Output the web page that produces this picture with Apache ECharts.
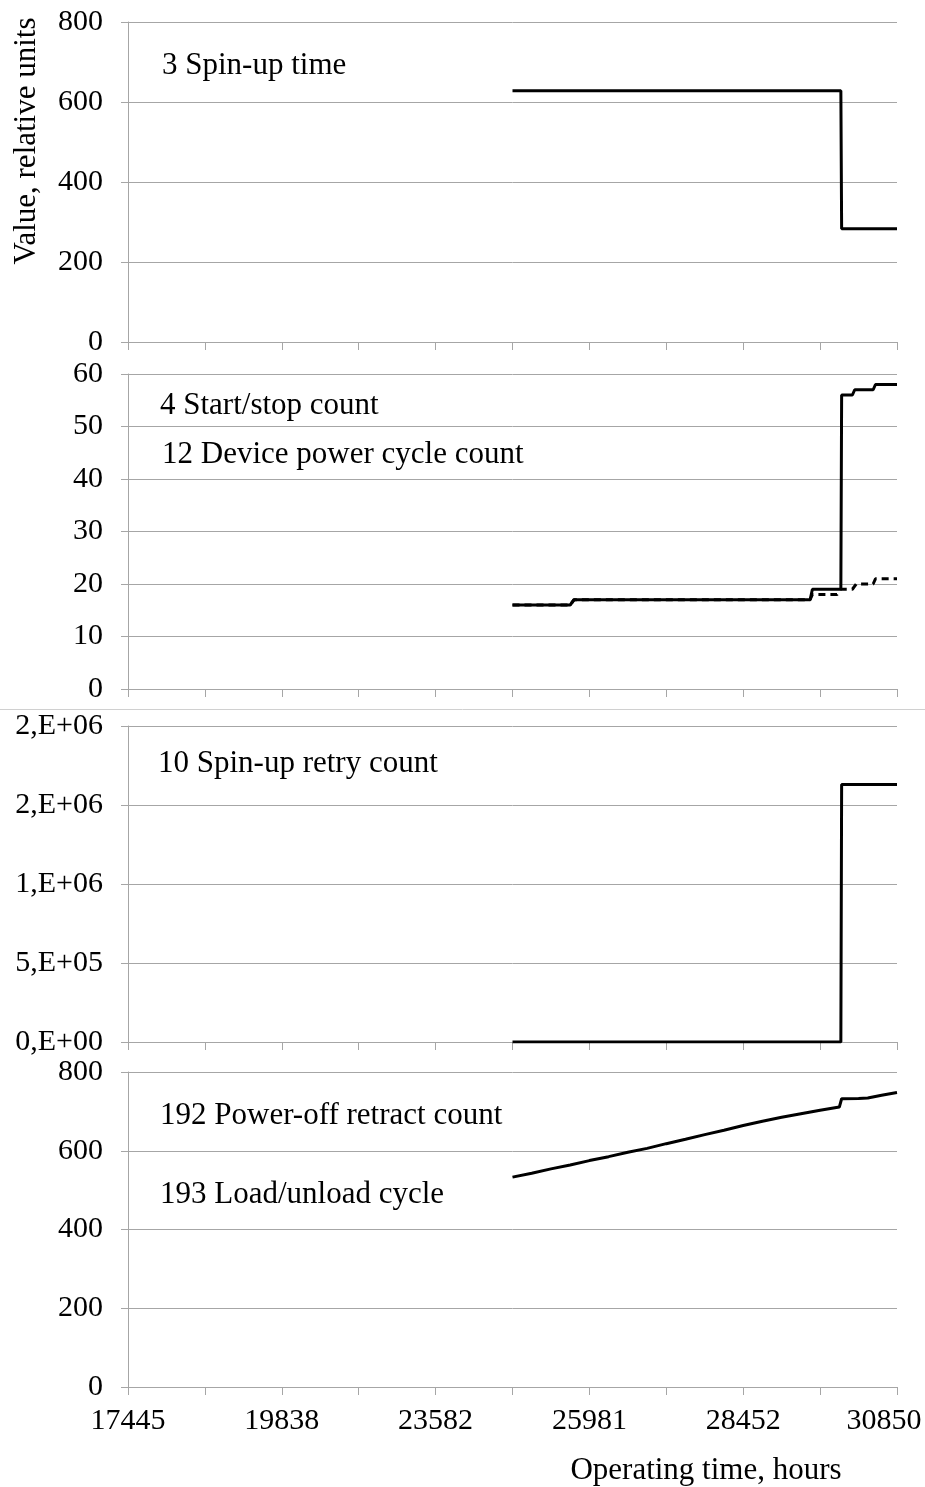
<!DOCTYPE html>
<html>
<head>
<meta charset="utf-8">
<script src="https://cdn.jsdelivr.net/npm/echarts@6/dist/echarts.min.js"></script>
<style>
  html, body { margin: 0; padding: 0; background: #fff; }
  #chart { width: 925px; height: 1487px; }
</style>
</head>
<body>
<div id="chart"></div>
<script>
// x axis runs in tick units (0..10), labels on every second tick
const hourLabels = ["17445", "19838", "23582", "25981", "28452", "30850"];
const retryTickLabels = ["0,E+00", "5,E+05", "1,E+06", "2,E+06", "2,E+06"];

// 3 Spin-up time
const spinUpX = [5, 9.27, 9.28, 10];
const spinUpY = [628, 628, 283, 283];

// 4 Start/stop count
const startStopX = [5, 5.75, 5.8, 8.87, 8.9, 9.27, 9.28, 9.42, 9.45, 9.69, 9.72, 10];
const startStopY = [16, 16, 17, 17, 19, 19, 56, 56, 57, 57, 58, 58];

// 12 Device power cycle count
const powerCycleX = [5, 5.75, 5.8, 8.87, 8.9, 9.22, 9.27, 9.42, 9.47, 9.69, 9.72, 10];
const powerCycleY = [16, 16, 17, 17, 18, 18, 19, 19, 20, 20, 21, 21];

// 10 Spin-up retry count
const retryX = [5, 9.27, 9.28, 10];
const retryY = [0, 0, 1630000, 1630000];

// 192 / 193 Power-off retract count, Load/unload cycle
const loadX = [5, 5.25, 5.5, 5.75, 6, 6.25, 6.5, 6.75, 7, 7.25, 7.5, 7.75, 8, 8.25, 8.5, 8.75, 9, 9.25, 9.28, 9.5, 9.62, 9.8, 10];
const loadY = [533, 543, 554, 564, 575, 585, 596, 606, 618, 629, 641, 652, 664, 675, 685, 694, 703, 711, 732, 733, 734, 741, 748];

const zip = (xs, ys) => xs.map((x, i) => [x, ys[i]]);

const gray = "#a6a6a6";
const font = "Liberation Serif";

let myChart = echarts.init(document.getElementById("chart"));

const grids = [
  { left: 128, right: 28, top: 22, height: 320 },
  { left: 128, right: 28, top: 374, height: 315 },
  { left: 128, right: 28, top: 726, height: 316 },
  { left: 128, right: 28, top: 1072, height: 315 }
];

const xAxes = grids.map((g, i) => ({
  type: "value",
  gridIndex: i,
  min: 0,
  max: 10,
  interval: 1,
  axisLine: { show: true, lineStyle: { color: gray, width: 1 } },
  axisTick: { show: true, length: 8, lineStyle: { color: gray } },
  splitLine: { show: false },
  axisLabel: {
    show: i === 3,
    margin: 19,
    color: "#000",
    fontFamily: font,
    fontSize: 30,
    formatter: (v) => {
      if (v % 2 !== 0) return "";
      const k = v / 2;
      return k === hourLabels.length - 1 ? "{last|" + hourLabels[k] + "}" : hourLabels[k];
    },
    rich: {
      last: { fontFamily: font, fontSize: 30, color: "#000", padding: [0, 26, 0, 0] }
    }
  }
}));

const yBase = (i, min, max, interval) => ({
  type: "value",
  gridIndex: i,
  min: min,
  max: max,
  interval: interval,
  axisLine: { show: true, lineStyle: { color: gray, width: 1 } },
  axisTick: { show: true, length: 7, lineStyle: { color: gray } },
  splitLine: { show: true, lineStyle: { color: gray, width: 1 } },
  axisLabel: { color: "#000", fontFamily: font, fontSize: 30, margin: 25 }
});

const yAxes = [
  yBase(0, 0, 800, 200),
  yBase(1, 0, 60, 10),
  yBase(2, 0, 2000000, 500000),
  yBase(3, 0, 800, 200)
];
yAxes[2].axisLabel.formatter = (v) => retryTickLabels[Math.round(v / 500000)];

const lineSeries = (i, data, dashed) => ({
  type: "line",
  xAxisIndex: i,
  yAxisIndex: i,
  data: data,
  symbol: "none",
  lineStyle: { color: "#000", width: 3, type: dashed ? [7, 5] : "solid" },
  z: dashed ? 2 : 3
});

const label = (text, x, y) => ({
  type: "text",
  x: x,
  y: y,
  style: { text: text, fill: "#000", font: "31px '" + font + "'", verticalAlign: "middle" }
});

let option = {
  animation: false,
  grid: grids,
  xAxis: xAxes,
  yAxis: yAxes,
  series: [
    lineSeries(0, zip(spinUpX, spinUpY)),
    lineSeries(1, zip(powerCycleX, powerCycleY), true),
    lineSeries(1, zip(startStopX, startStopY)),
    lineSeries(2, zip(retryX, retryY)),
    lineSeries(3, zip(loadX, loadY))
  ],
  graphic: [
    {
      type: "line",
      shape: { x1: 0, y1: 709.5, x2: 925, y2: 709.5 },
      style: { stroke: "#d0d0d0", lineWidth: 1 }
    },
    label("3 Spin-up time", 162, 66),
    label("4 Start/stop count", 160, 406),
    label("12 Device power cycle count", 162, 455),
    label("10 Spin-up retry count", 158, 764),
    label("192 Power-off retract count", 160, 1116),
    label("193 Load/unload cycle", 160, 1195),
    {
      type: "text",
      x: 27,
      y: 141,
      rotation: Math.PI / 2,
      style: { text: "Value, relative units", fill: "#000", font: "31px '" + font + "'", align: "center", verticalAlign: "middle" }
    },
    {
      type: "text",
      x: 706,
      y: 1471,
      style: { text: "Operating time, hours", fill: "#000", font: "31px '" + font + "'", align: "center", verticalAlign: "middle" }
    }
  ]
};
myChart.setOption(option);
</script>
</body>
</html>
